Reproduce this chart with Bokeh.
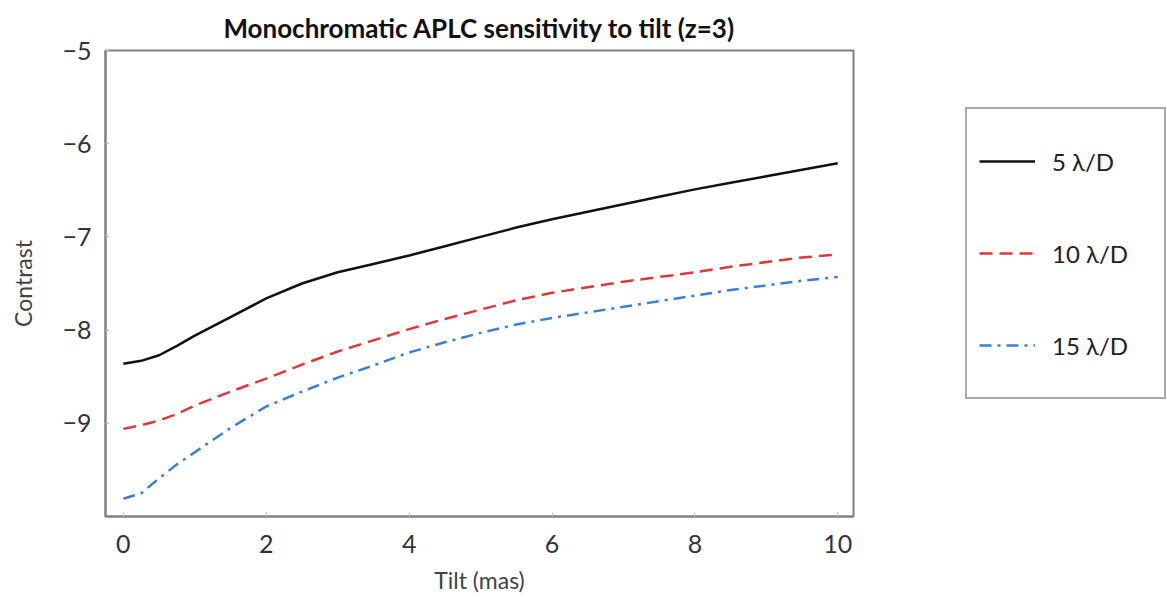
from bokeh.plotting import figure
from bokeh.layouts import row
from bokeh.models import Legend, LegendItem, FixedTicker, Range1d
from bokeh.embed import file_html
from bokeh.resources import INLINE

tilt = [0, 0.25, 0.5, 0.75, 1, 1.5, 2, 2.5, 3, 3.5, 4, 4.5, 5, 5.5, 6, 6.5, 7, 7.5, 8, 8.5, 9, 9.5, 10]
c5 = [-8.36, -8.33, -8.27, -8.17, -8.06, -7.86, -7.66, -7.50, -7.38, -7.29, -7.20, -7.10,
      -7.00, -6.90, -6.81, -6.73, -6.65, -6.57, -6.49, -6.42, -6.35, -6.28, -6.21]
c10 = [-9.06, -9.02, -8.97, -8.90, -8.81, -8.66, -8.52, -8.37, -8.23, -8.11, -7.99, -7.88,
       -7.78, -7.68, -7.60, -7.54, -7.48, -7.43, -7.38, -7.32, -7.27, -7.22, -7.19]
c15 = [-9.81, -9.75, -9.59, -9.44, -9.31, -9.05, -8.82, -8.66, -8.51, -8.38, -8.24, -8.13,
       -8.03, -7.94, -7.87, -7.81, -7.75, -7.69, -7.63, -7.57, -7.52, -7.47, -7.43]
labels = ["5 λ/D", "10 λ/D", "15 λ/D"]
x_ticks = [0, 2, 4, 6, 8, 10]
y_ticks = [-9, -8, -7, -6, -5]

FONT = "Lato"
styles = [dict(line_color="#111111", line_width=2.5),
          dict(line_color="#e03838", line_width=2.5, line_dash="13 7"),
          dict(line_color="#3b7fd8", line_width=2.5, line_dash="12 6 3 6")]

p = figure(width=860, height=607, output_backend="svg", toolbar_location=None,
           x_range=Range1d(-0.25, 10.22), y_range=Range1d(-10, -5),
           min_border_left=105, min_border_right=7, min_border_top=50, min_border_bottom=91,
           title="Monochromatic APLC sensitivity to tilt (z=3)")
p.title.align = "center"
p.title.vertical_align = "top"
p.title.text_font = FONT
p.title.text_font_size = "26px"
p.title.text_font_style = "bold"
p.title.text_color = "#111111"

p.grid.visible = False
p.outline_line_color = "#808080"
p.outline_line_width = 2
p.background_fill_color = "white"
p.border_fill_color = "white"

for ax in (p.xaxis[0], p.yaxis[0]):
    ax.axis_line_color = "#808080"
    ax.axis_line_width = 2
    ax.major_tick_in = 4
    ax.major_tick_out = 0
    ax.major_tick_line_color = "#bbbbbb"
    ax.minor_tick_line_color = None
    ax.major_label_text_font = FONT
    ax.major_label_text_font_size = "25px"
    ax.major_label_text_color = "#333333"
    ax.axis_label_text_font = FONT
    ax.axis_label_text_font_size = "23px"
    ax.axis_label_text_font_style = "normal"
    ax.axis_label_text_color = "#444444"

p.xaxis.ticker = FixedTicker(ticks=x_ticks)
p.yaxis.ticker = FixedTicker(ticks=y_ticks)
p.xaxis.major_label_overrides = {t: str(t) for t in x_ticks}
p.yaxis.major_label_overrides = {t: "\u2212" + str(abs(t)) for t in y_ticks}
p.xaxis.axis_label = "Tilt (mas)"
p.yaxis.axis_label = "Contrast"
p.xaxis.major_label_standoff = 18
p.xaxis.axis_label_standoff = 10
p.yaxis.major_label_standoff = 14
p.yaxis.axis_label_standoff = 22

for ys, st in zip([c5, c10, c15], styles):
    p.line(tilt, ys, **st)

# legend panel (frames of the row are aligned with the main plot)
q = figure(width=307, height=607, output_backend="svg", toolbar_location=None,
           x_range=Range1d(0, 1), y_range=Range1d(0, 1),
           min_border_left=0, min_border_right=0, min_border_top=0, min_border_bottom=0)
q.axis.visible = False
q.grid.visible = False
q.outline_line_color = None
q.background_fill_color = "white"
q.border_fill_color = "white"
nan = float("nan")
items = []
for lab, st in zip(labels, styles):
    rr = q.line([nan], [nan], **st)
    items.append(LegendItem(label=lab, renderers=[rr]))

legend = Legend(items=items, location=(105, 117), orientation="vertical")
legend.border_line_color = "#555555"
legend.border_line_width = 2
legend.background_fill_alpha = 0
legend.padding = 12
legend.spacing = 12
legend.margin = 0
legend.glyph_width = 56
legend.glyph_height = 80
legend.label_height = 80
legend.label_width = 100
legend.label_standoff = 17
legend.label_text_font = FONT
legend.label_text_font_size = "24px"
legend.label_text_color = "#222222"
q.add_layout(legend, "center")

layout = row(p, q)
open("out.html", "w").write(file_html(layout, INLINE))
